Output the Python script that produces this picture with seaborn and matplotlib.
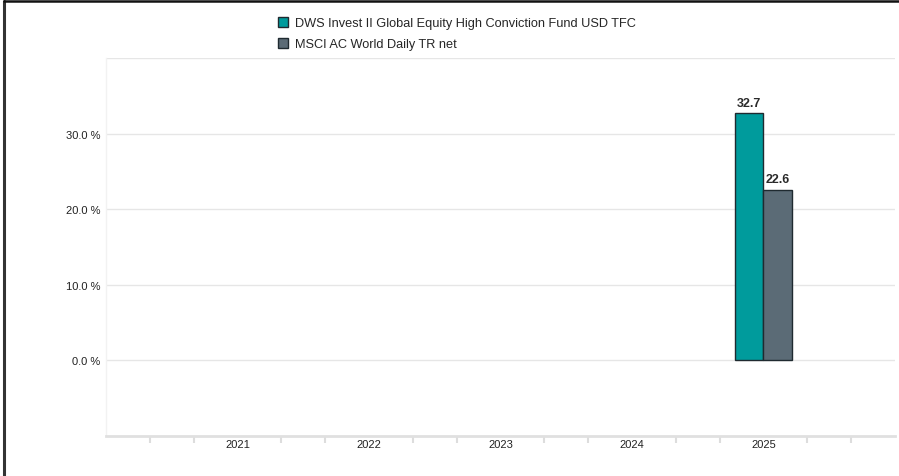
import pandas as pd
import numpy as np
import matplotlib.pyplot as plt
import seaborn as sns
from matplotlib.patches import Patch
from matplotlib.lines import Line2D

years = ['2021', '2022', '2023', '2024', '2025']
fund_name = 'DWS Invest II Global Equity High Conviction Fund USD TFC'
index_name = 'MSCI AC World Daily TR net'
fund_values = [32.7]
index_values = [22.6]
value_years = ['2025']
y_ticks = [0, 10, 20, 30]
y_tick_labels = ['0.0 %', '10.0 %', '20.0 %', '30.0 %']

teal = '#009b9c'
slate = '#5b6b76'
edge = '#1f2a30'

df = pd.DataFrame({
    'year': value_years * 2,
    'value': fund_values + index_values,
    'series': [fund_name] * len(fund_values) + [index_name] * len(index_values),
})

sns.set_style('white')
plt.rcParams['font.family'] = ['Liberation Sans', 'DejaVu Sans']

fig = plt.figure(figsize=(8.99, 4.77), dpi=100)
ax = fig.add_axes([106 / 899, 1 - 437 / 477, 789 / 899, 378 / 477])

sns.barplot(data=df, x='year', y='value', hue='series', order=years,
            hue_order=[fund_name, index_name], palette=[teal, slate],
            width=0.44, edgecolor=edge, linewidth=1, saturation=1,
            legend=False, ax=ax)

for c in ax.containers:
    ax.bar_label(c, fmt='%.1f', padding=3, fontsize=9, fontweight='bold',
                 color='#2a2a2a')

ax.set_xlim(-1, 5)
ax.set_ylim(-10, 40)
ax.set_yticks(y_ticks)
ax.set_yticklabels(y_tick_labels)
ax.set_xlabel('')
ax.set_ylabel('')

# light gridlines incl. top line at 40
for v in [0, 10, 20, 30, 40]:
    ax.axhline(v, color='#e6e6e6', lw=1, zorder=0)

minor = [i / 3 for i in range(-3, 16) if i % 3 != 0]
ax.set_xticks(minor, minor=True)
ax.tick_params(axis='x', which='minor', length=5, color='#dddddd', width=1.5,
               bottom=True)
ax.tick_params(axis='x', which='major', length=0, labelsize=8, pad=2,
               labelcolor='#222222')
ax.tick_params(axis='y', length=0, labelsize=8, pad=4, labelcolor='#222222')

for s in ['top', 'right']:
    ax.spines[s].set_visible(False)
ax.spines['left'].set_color('#f2f2f2')
ax.spines['left'].set_linewidth(1)
ax.spines['bottom'].set_color('#e0e0e0')
ax.spines['bottom'].set_linewidth(2)

handles = [Patch(facecolor=teal, edgecolor=edge, label=fund_name),
           Patch(facecolor=slate, edgecolor=edge, label=index_name)]
fig.legend(handles=handles, loc='upper left', bbox_to_anchor=(273 / 899, 1 - 13 / 477),
           frameon=False, fontsize=9.2, handlelength=0.8, handleheight=0.8,
           handletextpad=0.5, labelspacing=0.65, borderaxespad=0)

# outer frame (top and left only)
fig.add_artist(Line2D([4 / 899, 4 / 899], [0, 1 - 2 / 477], color='#333333', lw=2.2,
                      transform=fig.transFigure))
fig.add_artist(Line2D([4 / 899, 1], [1 - 2 / 477, 1 - 2 / 477], color='#111111', lw=1.8,
                      transform=fig.transFigure))

fig.savefig('out.png', dpi=100)
